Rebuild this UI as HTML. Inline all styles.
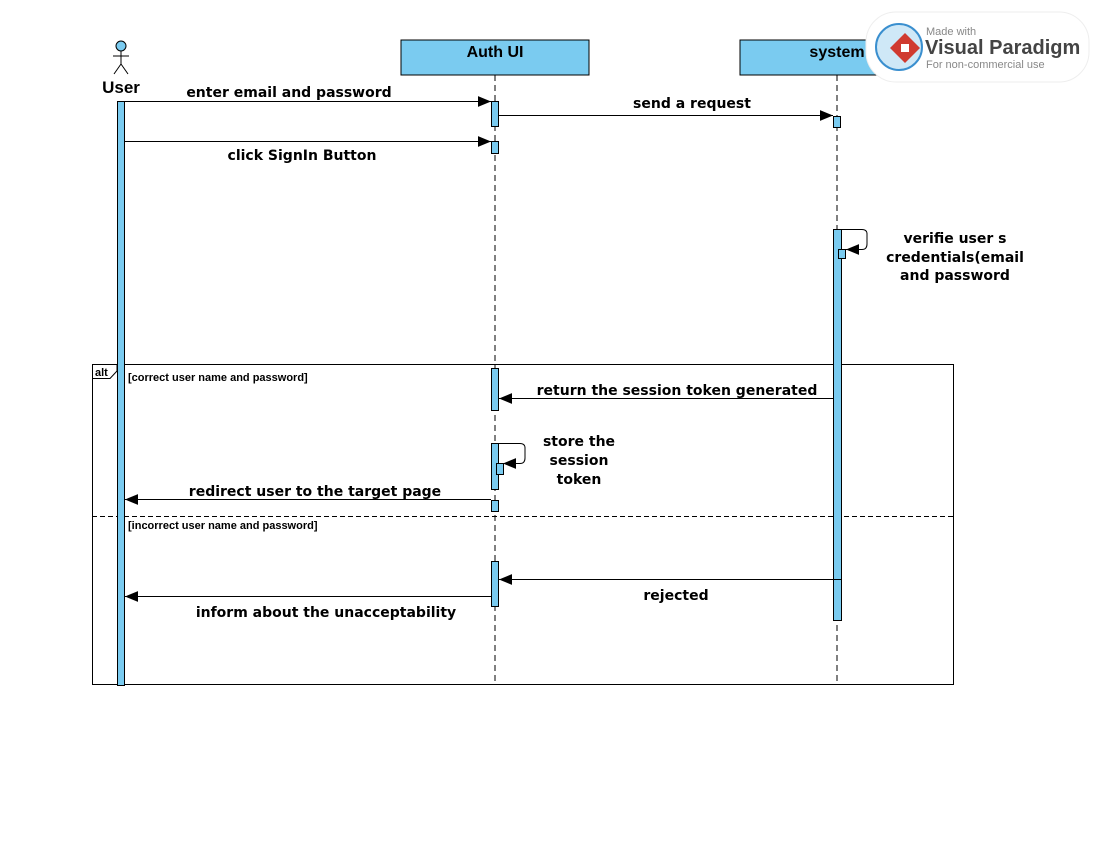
<!DOCTYPE html>
<html><head><meta charset="utf-8"><style>
html,body{margin:0;padding:0;background:#fff;}
svg text{font-family:"DejaVu Sans","Liberation Sans",sans-serif;}
</style></head><body>
<svg width="1100" height="850" viewBox="0 0 1100 850" xmlns="http://www.w3.org/2000/svg">
<defs>
<marker id="a" viewBox="0 0 12 10" refX="12" refY="5" markerWidth="13" markerHeight="11" markerUnits="userSpaceOnUse" orient="auto"><path d="M0,0L12,5L0,10z" fill="#000"/></marker>
</defs>
<rect width="1100" height="850" fill="#fff"/>
<circle cx="121" cy="46" r="5" fill="#7acbf0" stroke="#000"/>
<path d="M121,51V64M113,56H129M121,64L114,74M121,64L128,74" stroke="#000" fill="none"/>
<text x="121" y="93" font-size="17" font-weight="bold" text-anchor="middle" style="font-family:'Liberation Sans'">User</text>
<rect x="401" y="40" width="188" height="35" fill="#7acbf0" stroke="#000"/>
<text x="495" y="57" font-size="16" font-weight="bold" text-anchor="middle" style="font-family:'Liberation Sans'">Auth UI</text>
<rect x="740" y="40" width="194" height="35" fill="#7acbf0" stroke="#000"/>
<text x="837" y="57" font-size="16" font-weight="bold" text-anchor="middle" style="font-family:'Liberation Sans'">system</text>
<line x1="495" y1="75" x2="495" y2="685" stroke="#000" stroke-dasharray="6,4"/>
<line x1="837" y1="75" x2="837" y2="685" stroke="#000" stroke-dasharray="6,4"/>
<rect x="92.5" y="364.5" width="861" height="320" fill="none" stroke="#000"/>
<line x1="92" y1="516.5" x2="954" y2="516.5" stroke="#000" stroke-dasharray="5,3"/>
<path d="M92.5,378.5H110L117,371V364.5" fill="none" stroke="#000"/>
<text x="95" y="376" font-size="11" font-weight="bold" style="font-family:'Liberation Sans'">alt</text>
<text x="128" y="381" font-size="11" font-weight="bold" style="font-family:'Liberation Sans'">[correct user name and password]</text>
<text x="128" y="529" font-size="11" font-weight="bold" style="font-family:'Liberation Sans'">[incorrect user name and password]</text>
<g fill="#7acbf0" stroke="#000">
<rect x="117.5" y="101.5" width="7" height="584"/>
<rect x="491.5" y="101.5" width="7" height="25"/>
<rect x="491.5" y="141.5" width="7" height="12"/>
<rect x="833.5" y="116.5" width="7" height="11"/>
<rect x="833.5" y="229.5" width="8" height="391"/>
<rect x="838.5" y="249.5" width="7" height="9"/>
<rect x="491.5" y="368.5" width="7" height="42"/>
<rect x="491.5" y="443.5" width="7" height="46"/>
<rect x="496.5" y="463.5" width="7" height="11"/>
<rect x="491.5" y="500.5" width="7" height="11"/>
<rect x="491.5" y="561.5" width="7" height="45"/>
</g>
<g stroke="#000" fill="none" marker-end="url(#a)">
<line x1="125" y1="101.5" x2="491" y2="101.5"/>
<line x1="499" y1="115.5" x2="833" y2="115.5"/>
<line x1="125" y1="141.5" x2="491" y2="141.5"/>
<path d="M841,229.5H862Q867,229.5 867,234V244Q867,249.5 862,249.5H846"/>
<line x1="833" y1="398.5" x2="499" y2="398.5"/>
<path d="M499,443.5H520Q525,443.5 525,448V458Q525,463.5 520,463.5H503"/>
<line x1="491" y1="499.5" x2="125" y2="499.5"/>
<line x1="841" y1="579.5" x2="499" y2="579.5"/>
<line x1="491" y1="596.5" x2="125" y2="596.5"/>
</g>
<g font-size="14" font-weight="bold" text-anchor="middle">
<text x="289" y="97">enter email and password</text>
<text x="692" y="108">send a request</text>
<text x="302" y="160">click SignIn Button</text>
<text x="955" y="243">verifie user s</text>
<text x="955" y="262">credentials(email</text>
<text x="955" y="280">and password</text>
<text x="677" y="395">return the session token generated</text>
<text x="579" y="446">store the</text>
<text x="579" y="465">session</text>
<text x="579" y="484">token</text>
<text x="315" y="496">redirect user to the target page</text>
<text x="676" y="600">rejected</text>
<text x="326" y="617">inform about the unacceptability</text>
</g>
<rect x="866" y="12" width="223" height="70" rx="30" fill="#fff" stroke="#eee"/>
<circle cx="899" cy="47" r="23" fill="#cfe8f7" stroke="#3a8fcf" stroke-width="2"/>
<path d="M905,33L920,48L905,63L890,48z" fill="#d03a30"/>
<rect x="901" y="44" width="8" height="8" fill="#fff"/>
<text x="926" y="35" font-size="11" fill="#888" style="font-family:'Liberation Sans'">Made with</text>
<text x="925" y="54" font-size="20" font-weight="bold" fill="#444" style="font-family:'Liberation Sans'">Visual Paradigm</text>
<text x="926" y="68" font-size="11" fill="#888" style="font-family:'Liberation Sans'">For non-commercial use</text>
</svg>
</body></html>
